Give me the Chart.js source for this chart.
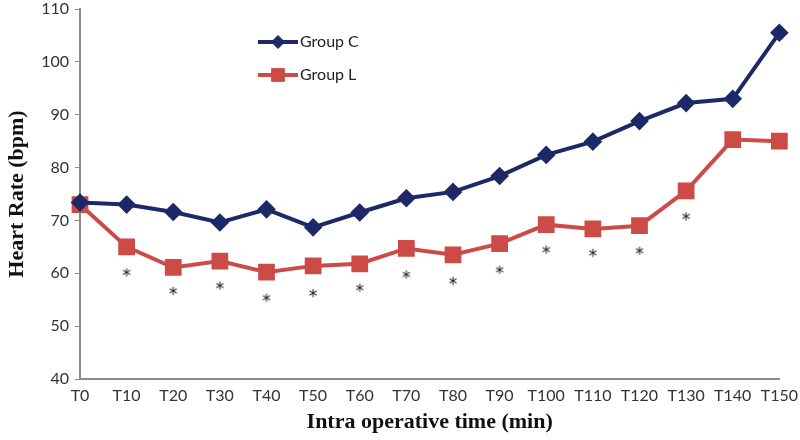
<!DOCTYPE html>
<html>
<head>
<meta charset="utf-8">
<script src="https://cdn.jsdelivr.net/npm/chart.js@4.4.3/dist/chart.umd.min.js"></script>
<style>
  html, body { margin: 0; padding: 0; background: #fff; }
  #wrap { width: 800px; height: 440px; }
</style>
</head>
<body>
<div id="wrap"><canvas id="chart"></canvas></div>
<script>
const times = ['T0', 'T10', 'T20', 'T30', 'T40', 'T50', 'T60', 'T70', 'T80', 'T90', 'T100', 'T110', 'T120', 'T130', 'T140', 'T150'];
const groupC = [73.4, 73.0, 71.6, 69.6, 72.1, 68.7, 71.5, 74.2, 75.4, 78.4, 82.4, 84.9, 88.8, 92.2, 93.0, 105.5];
const groupL = [73.0, 65.0, 61.1, 62.3, 60.2, 61.4, 61.8, 64.7, 63.5, 65.6, 69.2, 68.4, 69.0, 75.6, 85.3, 85.0];
// where the significance asterisks sit (null = none)
const starMarks = [null, 60.0, 56.5, 57.5, 55.2, 56.1, 57.1, 59.6, 58.4, 60.5, 64.3, 63.7, 64.1, 70.6, null, null];

const navy = '#1d2867';
const red = '#cd4b46';
const tickFont = { family: 'Lato', size: 16 };
const titleFont = { family: 'Liberation Serif', size: 22, weight: 'bold' };

// asterisk drawn as a point style
const star = document.createElement('canvas');
star.width = 16; star.height = 16;
const sctx = star.getContext('2d');
sctx.fillStyle = '#111';
sctx.font = '17px "DejaVu Sans"';
sctx.textAlign = 'center';
sctx.textBaseline = 'middle';
sctx.fillText('*', 8, 12);

// legend inside the plot, like the original
const insideLegend = {
  id: 'insideLegend',
  afterDraw(chart) {
    const ctx = chart.ctx;
    const rows = [
      { ds: chart.data.datasets[0], y: 42 },
      { ds: chart.data.datasets[1], y: 75 }
    ];
    ctx.save();
    rows.forEach(r => {
      ctx.strokeStyle = r.ds.borderColor;
      ctx.lineWidth = r.ds.borderWidth;
      ctx.beginPath();
      ctx.moveTo(258, r.y);
      ctx.lineTo(298, r.y);
      ctx.stroke();
      ctx.fillStyle = r.ds.pointBackgroundColor;
      ctx.strokeStyle = r.ds.pointBorderColor;
      ctx.lineWidth = 1;
      Chart.helpers.drawPoint(ctx, {
        pointStyle: r.ds.pointStyle,
        radius: r.ds.pointRadius,
        borderWidth: 1
      }, 278, r.y);
      ctx.fillStyle = '#222';
      ctx.font = '16px Lato';
      ctx.textBaseline = 'middle';
      ctx.fillText(r.ds.label, 300, r.y);
    });
    ctx.restore();
  }
};

new Chart(document.getElementById('chart'), {
  type: 'line',
  data: {
    labels: times,
    datasets: [
      {
        label: 'Group C',
        data: groupC,
        borderColor: navy,
        backgroundColor: navy,
        pointBackgroundColor: navy,
        pointBorderColor: navy,
        borderWidth: 4,
        pointStyle: 'rectRot',
        pointRadius: 6.5,
        tension: 0,
        clip: false
      },
      {
        label: 'Group L',
        data: groupL,
        borderColor: red,
        backgroundColor: red,
        pointBackgroundColor: red,
        pointBorderColor: red,
        borderWidth: 4,
        pointStyle: 'rect',
        pointRadius: 9,
        tension: 0,
        clip: false
      },
      {
        label: 'sig',
        data: starMarks,
        showLine: false,
        pointStyle: star,
        pointRadius: 8,
        clip: false
      }
    ]
  },
  options: {
    responsive: true,
    maintainAspectRatio: false,
    animation: false,
    devicePixelRatio: 1,
    layout: { autoPadding: false, padding: { top: 9, right: 19, left: 0, bottom: 0 } },
    plugins: {
      legend: { display: false },
      tooltip: { enabled: false }
    },
    scales: {
      x: {
        offset: false,
        grid: { display: false, drawOnChartArea: false, drawTicks: true, tickLength: 5, color: '#8c8c8c' },
        border: { color: '#8c8c8c', width: 2 },
        ticks: { font: tickFont, color: '#333', maxRotation: 0, autoSkip: false, padding: 2 },
        title: { display: true, text: 'Intra operative time (min)', font: titleFont, color: '#111', padding: { top: 4 } },
        afterFit(scale) { scale.height = 61; }
      },
      y: {
        min: 40,
        max: 110,
        grid: { drawOnChartArea: false, drawTicks: true, tickLength: 5, color: '#8c8c8c' },
        border: { color: '#8c8c8c', width: 2 },
        ticks: { stepSize: 10, font: tickFont, color: '#333', padding: 6 },
        title: { display: true, text: 'Heart Rate (bpm)', font: titleFont, color: '#111', padding: { bottom: 0 } },
        afterFit(scale) { scale.width = 80; scale.paddingTop = 0; }
      }
    }
  },
  plugins: [insideLegend]
});
</script>
</body>
</html>
